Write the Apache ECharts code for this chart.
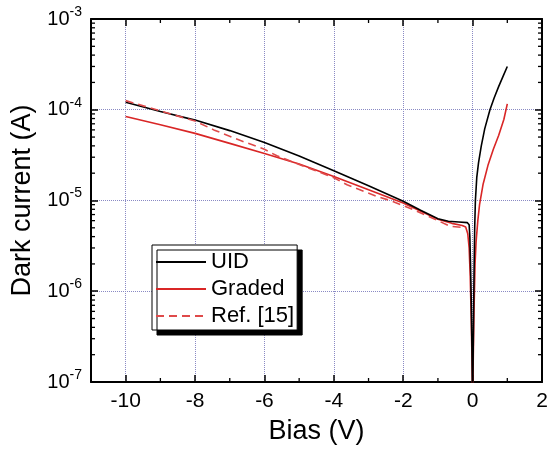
<!DOCTYPE html>
<html>
<head>
<meta charset="utf-8">
<script src="https://cdn.jsdelivr.net/npm/echarts@6/dist/echarts.min.js"></script>
<style>
  html, body { margin: 0; padding: 0; background: #ffffff; }
  #chart { width: 553px; height: 452px; }
</style>
</head>
<body>
<div id="chart"></div>
<script>
// Dark current vs. bias for the UID and graded devices, with the reference curve.
const biasUID = [-10, -9, -8, -7, -6, -5, -4, -3, -2, -1.5, -1, -0.7, -0.4, -0.15, -0.1, -0.08, -0.06, -0.04, -0.02, 0,
  0.02, 0.04, 0.06, 0.08, 0.12, 0.17, 0.25, 0.35, 0.5, 0.62, 0.75, 0.88, 1.0];
const currentUID = [1.21e-4, 9.55e-5, 7.69e-5, 5.89e-5, 4.35e-5, 3.09e-5, 2.13e-5, 1.45e-5, 9.8e-6, 7.8e-6, 6.3e-6, 5.9e-6, 5.8e-6, 5.7e-6, 5.4e-6, 4e-6, 2e-6, 8e-7, 2.5e-7, 5e-8,
  3e-7, 1.5e-6, 5e-6, 1e-5, 1.8e-5, 2.6e-5, 4e-5, 6.2e-5, 1.0e-4, 1.35e-4, 1.8e-4, 2.35e-4, 3.0e-4];

const biasGraded = [-10, -9, -8, -7, -6, -5, -4, -3, -2, -1, -0.6, -0.3, -0.2, -0.14, -0.1, -0.07, -0.04, -0.02, 0,
  0.02, 0.04, 0.07, 0.1, 0.15, 0.2, 0.3, 0.45, 0.6, 0.75, 0.9, 1.0];
const currentGraded = [8.41e-5, 6.82e-5, 5.49e-5, 4.26e-5, 3.3e-5, 2.52e-5, 1.84e-5, 1.31e-5, 9.4e-6, 6.22e-6, 5.6e-6, 5.3e-6, 5.1e-6, 4.3e-6, 3e-6, 1.5e-6, 5e-7, 2e-7, 5e-8,
  2e-7, 6e-7, 2e-6, 3.5e-6, 6e-6, 9e-6, 1.5e-5, 2.5e-5, 3.7e-5, 5.2e-5, 7.8e-5, 1.16e-4];

const biasRef = [-10, -9, -8, -7.46, -6.69, -6.02, -5.64, -5, -4, -3.62, -2.76, -2.38, -1.7, -1, -0.65, -0.31, -0.2];
const currentRef = [1.26e-4, 9.7e-5, 7.5e-5, 6.0e-5, 4.58e-5, 3.69e-5, 3.11e-5, 2.5e-5, 1.78e-5, 1.49e-5, 1.11e-5, 1.0e-5, 7.9e-6, 6.0e-6, 5.2e-6, 5.06e-6, 5.0e-6];

const biasTicks = [-10, -8, -6, -4, -2, 0, 2];
const biasMinorTicks = [-11, -9, -7, -5, -3, -1, 1];
const decades = [-7, -6, -5, -4];

const FONT = 'Liberation Sans, Arial, sans-serif';
const RED = '#d92626';
const REF_RED = '#df4a4a';
const GRID = '#8a8ac4';

// log-scale minor tick values: 2..9 x 10^n
const currentMinorTicks = [];
decades.forEach(function (n) {
  for (let k = 2; k <= 9; k++) currentMinorTicks.push(k * Math.pow(10, n));
});

const pairs = (xs, ys) => xs.map((x, i) => [x, ys[i]]);

const chart = echarts.init(document.getElementById('chart'), null, { renderer: 'canvas' });

const xCommon = {
  type: 'value', min: -11, max: 2, interval: 1,
  axisLine: { onZero: false, lineStyle: { color: '#000', width: 2 } },
  axisTick: { inside: true, length: 7, customValues: biasTicks, lineStyle: { color: '#000', width: 1.5 } }
};
const yCommon = {
  type: 'log', logBase: 10, min: 1e-7, max: 1e-3, interval: 1,
  axisLine: { onZero: false, lineStyle: { color: '#000', width: 2 } },
  axisTick: { inside: true, length: 7, lineStyle: { color: '#000', width: 1.5 } }
};

chart.setOption({
  animation: false,
  backgroundColor: '#ffffff',
  grid: { left: 91, right: 11, top: 19, bottom: 70, containLabel: false },
  xAxis: [
    Object.assign({}, xCommon, {
      position: 'bottom',
      name: 'Bias (V)', nameLocation: 'middle', nameGap: 36,
      nameTextStyle: { fontFamily: FONT, fontSize: 27, color: '#000' },
      axisLabel: { customValues: biasTicks, margin: 9, fontFamily: FONT, fontSize: 21, color: '#000' },
      splitLine: { show: true, lineStyle: { color: GRID, type: 'dotted', width: 1 } }
    }),
    Object.assign({}, xCommon, {
      position: 'top',
      axisLabel: { show: false },
      splitLine: { show: false }
    })
  ],
  yAxis: [
    Object.assign({}, yCommon, {
      position: 'left',
      name: 'Dark current (A)', nameLocation: 'middle', nameGap: 46,
      nameTextStyle: { fontFamily: FONT, fontSize: 27, color: '#000' },
      axisLabel: {
        margin: 9, color: '#000', fontFamily: FONT,
        formatter: function (v) { return '{b|10}{s|' + Math.round(Math.log10(v)) + '}'; },
        rich: {
          b: { fontFamily: FONT, fontSize: 20, lineHeight: 28, color: '#000' },
          s: { fontFamily: FONT, fontSize: 14, lineHeight: 14, verticalAlign: 'top', color: '#000' }
        }
      },
      splitLine: { show: true, lineStyle: { color: GRID, type: 'dotted', width: 1 } }
    }),
    Object.assign({}, yCommon, {
      position: 'right',
      axisLabel: { show: false },
      splitLine: { show: false }
    })
  ],
  legend: {
    data: ['UID', 'Graded', 'Ref. [15]'],
    orient: 'vertical', left: 152, top: 245,
    itemWidth: 50, itemHeight: 14, itemGap: 5,
    padding: [6, 3, 3, 3],
    backgroundColor: '#ffffff', borderColor: '#000', borderWidth: 1, borderRadius: 0,
    shadowColor: '#000', shadowBlur: 0, shadowOffsetX: 5, shadowOffsetY: 5,
    itemStyle: { opacity: 0, borderWidth: 0 },
    textStyle: { fontFamily: FONT, fontSize: 22, color: '#000', lineHeight: 22 }
  },
  series: [
    {
      name: 'UID', type: 'line', xAxisIndex: 0, yAxisIndex: 0,
      data: pairs(biasUID, currentUID),
      showSymbol: false, symbol: 'none', clip: true,
      lineStyle: { color: '#000', width: 1.6 }, itemStyle: { color: '#000' }, z: 4
    },
    {
      name: 'Graded', type: 'line', xAxisIndex: 0, yAxisIndex: 0,
      data: pairs(biasGraded, currentGraded),
      showSymbol: false, symbol: 'none', clip: true,
      lineStyle: { color: RED, width: 1.6 }, itemStyle: { color: RED }, z: 3
    },
    {
      name: 'Ref. [15]', type: 'line', xAxisIndex: 0, yAxisIndex: 0,
      data: pairs(biasRef, currentRef),
      showSymbol: false, symbol: 'none', clip: true,
      lineStyle: { color: REF_RED, width: 1.6, type: [8, 5] }, itemStyle: { color: REF_RED }, z: 5
    },
    {
      // minor ticks on all four sides of the frame
      name: 'minorTicks', type: 'custom', xAxisIndex: 0, yAxisIndex: 0,
      silent: true, clip: false, z: 6,
      data: [[0, 1e-5]],
      renderItem: function (params, api) {
        const cs = params.coordSys;
        const children = [];
        const seg = (x1, y1, x2, y2) => ({
          type: 'line', shape: { x1: x1, y1: y1, x2: x2, y2: y2 },
          style: { stroke: '#000', lineWidth: 1.3 }
        });
        currentMinorTicks.forEach(function (v) {
          const y = api.coord([0, v])[1];
          children.push(seg(cs.x, y, cs.x + 4, y));
          children.push(seg(cs.x + cs.width - 4, y, cs.x + cs.width, y));
        });
        biasMinorTicks.forEach(function (v) {
          const x = api.coord([v, 1e-5])[0];
          children.push(seg(x, cs.y + cs.height, x, cs.y + cs.height - 4));
          children.push(seg(x, cs.y, x, cs.y + 4));
        });
        return { type: 'group', children: children };
      }
    }
  ]
});
</script>
</body>
</html>
